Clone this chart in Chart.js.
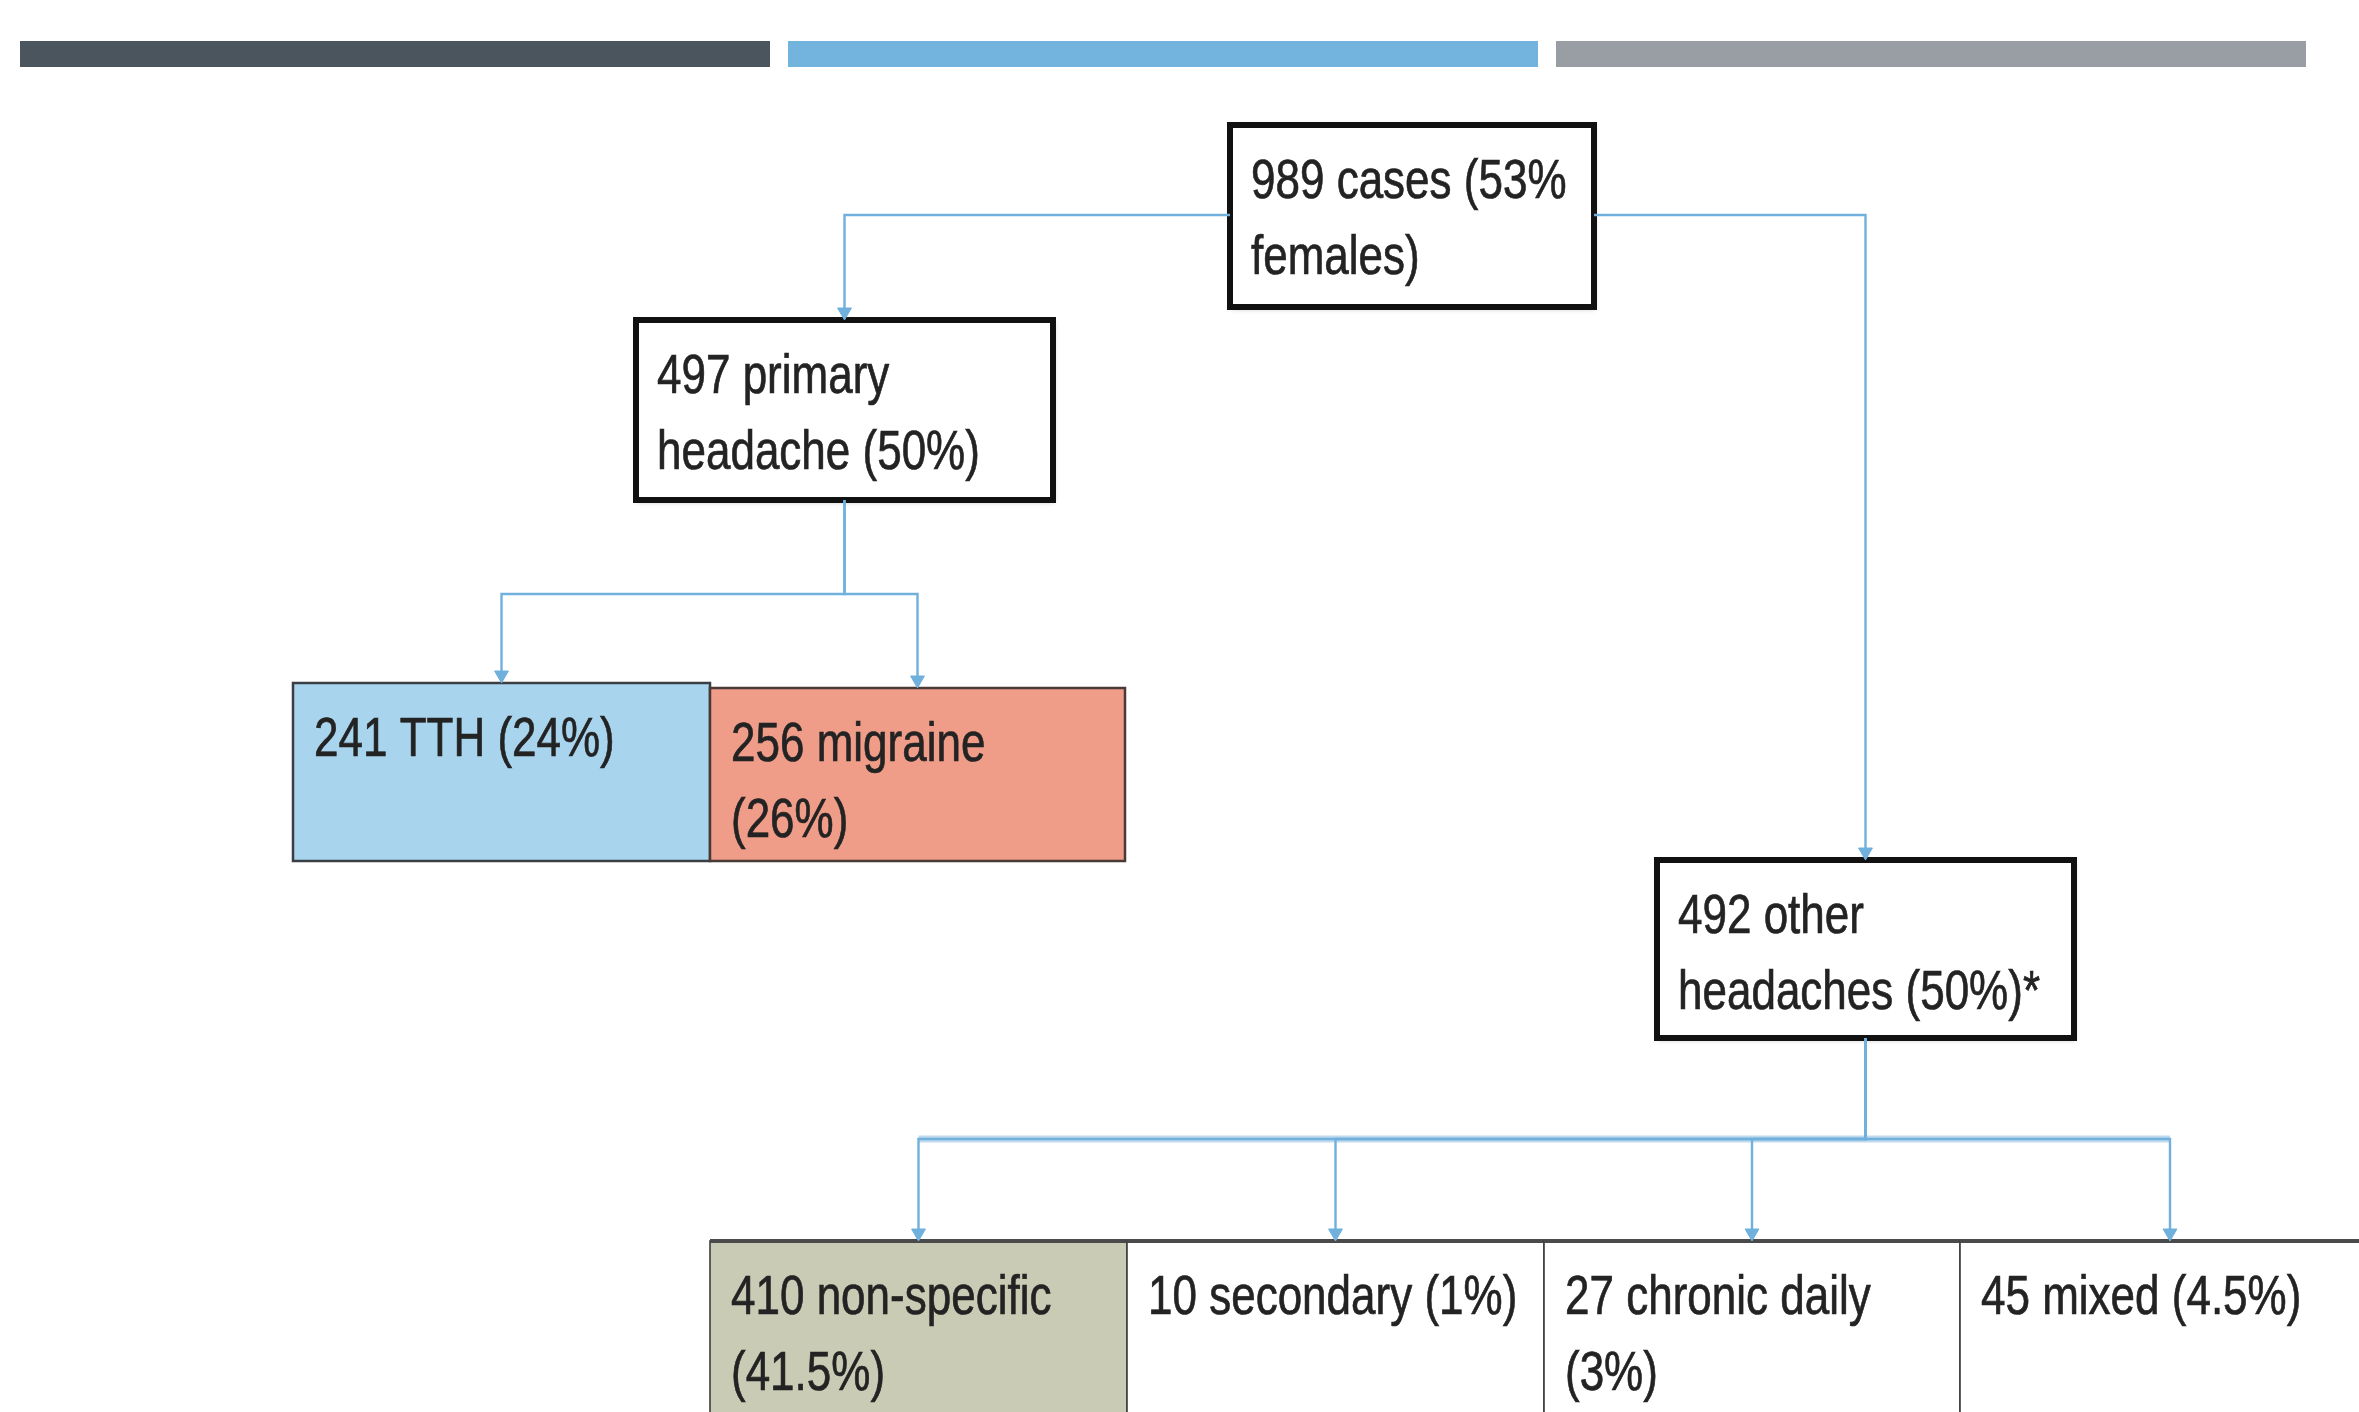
<!DOCTYPE html>
<html>
<head>
<meta charset="utf-8">
<script src="https://cdn.jsdelivr.net/npm/chart.js@4/dist/chart.umd.min.js"></script>
<style>
  html, body { margin: 0; padding: 0; background: #ffffff; overflow: hidden; }
  #wrap { width: 2359px; height: 1412px; position: relative; }
</style>
</head>
<body>
<div id="wrap"><canvas id="flow" width="2359" height="1412"></canvas></div>
<script>
// Classification of headache cases
const counts  = [989, 497, 241, 256, 492, 410, 10, 27, 45];
const names   = ['cases', 'primary', 'TTH', 'migraine', 'other', 'non-specific', 'secondary', 'chronic daily', 'mixed'];
const suffix  = ['', 'headache', '', '', 'headaches', '', '', '', ''];
const shares  = ['53% females', '50%', '24%', '26%', '50%', '41.5%', '1%', '3%', '4.5%'];
const notes   = ['', '', '', '', '*', '', '', '', ''];
const parents = [-1, 0, 1, 1, 0, 4, 4, 4, 4];

// ---- layout (scale units = canvas pixels, y grows downwards) ----
const W = 2359, H = 1412;
const FONT = '"Liberation Sans", Arial, sans-serif';
const FONT_SIZE = 55;
const NARROW = 0.8;       // horizontal condensing of the label face
const LINE_GAP = 76;
const FIRST_LINE = 58;
const TEXT_INSET = 21;

const styles = {
  frame: { fill: '#ffffff', stroke: '#111111', width: 6, shadow: true },
  tth:   { fill: '#a9d4ee', stroke: '#3b3f44', width: 2.5 },
  mig:   { fill: '#ef9c88', stroke: '#4a3a36', width: 2.5 },
  grey:  { fill: '#c9cbb4', stroke: '#3d3d3d', width: 1.6, top: 4 },
  row:   { fill: '#ffffff', stroke: '#3d3d3d', width: 1.6, top: 4 }
};

// box geometry and the number of words that go on the first text line
const boxes = [
  { x0: 1230, x1: 1594, y0: 125,  y1: 307,  style: 'frame', firstWords: 3 },
  { x0: 636,  x1: 1053, y0: 320,  y1: 500,  style: 'frame', firstWords: 2 },
  { x0: 293,  x1: 710,  y0: 683,  y1: 861,  style: 'tth',   firstWords: 0 },
  { x0: 710,  x1: 1125, y0: 688,  y1: 861,  style: 'mig',   firstWords: 2 },
  { x0: 1657, x1: 2074, y0: 860,  y1: 1038, style: 'frame', firstWords: 2 },
  { x0: 710,  x1: 1127, y0: 1241, y1: 1480, style: 'grey',  firstWords: 2 },
  { x0: 1127, x1: 1544, y0: 1241, y1: 1480, style: 'row',   firstWords: 0 },
  { x0: 1544, x1: 1960, y0: 1241, y1: 1480, style: 'row',   firstWords: 3 },
  { x0: 1960, x1: 2380, y0: 1241, y1: 1480, style: 'row',   firstWords: 0 }
];

// how each parent hands off to its children
const routing = {
  0: { mode: 'side', y: 215 },
  1: { mode: 'bottom', busY: 594, busWidth: 0 },
  4: { mode: 'bottom', busY: 1139, busWidth: 7 }
};

const headerBars = [
  { x0: 20,   x1: 770,  color: '#4b555d' },
  { x0: 788,  x1: 1538, color: '#73b4de' },
  { x0: 1556, x1: 2306, color: '#999ea5' }
];
const HEADER_Y0 = 41, HEADER_Y1 = 67;

const LINK_COLOR = '#6fb0dd';
const ARROW_R = 8;

// ---- build connector datasets from the tree ----
const cx = b => (b.x0 + b.x1) / 2;
const datasets = [];
const busDrawn = {};
parents.forEach((p, i) => {
  if (p < 0) return;
  const pb = boxes[p], cb = boxes[i], r = routing[p];
  const ccx = cx(cb);
  let pts;
  if (r.mode === 'side') {
    const sx = ccx < cx(pb) ? pb.x0 : pb.x1;
    pts = [{ x: sx, y: r.y }, { x: ccx, y: r.y }, { x: ccx, y: cb.y0 - ARROW_R }];
  } else {
    pts = [{ x: cx(pb), y: pb.y1 }, { x: cx(pb), y: r.busY }, { x: ccx, y: r.busY }, { x: ccx, y: cb.y0 - ARROW_R }];
    if (r.busWidth && !busDrawn[p]) {
      busDrawn[p] = true;
      const kids = parents.map((q, k) => q === p ? cx(boxes[k]) : null).filter(v => v !== null);
      datasets.push({
        type: 'scatter', showLine: true, pointRadius: 0,
        borderColor: 'rgba(176,208,232,0.8)', borderWidth: r.busWidth,
        data: [{ x: Math.min(...kids), y: r.busY }, { x: Math.max(...kids), y: r.busY }],
        order: 3
      });
    }
  }
  datasets.push({
    type: 'scatter', showLine: true, pointRadius: 0,
    borderColor: LINK_COLOR, borderWidth: 2.4,
    data: pts, order: 2
  });
  datasets.push({
    type: 'scatter', showLine: false,
    pointStyle: 'triangle', rotation: 180, pointRadius: ARROW_R,
    backgroundColor: LINK_COLOR, borderColor: LINK_COLOR, borderWidth: 1,
    data: [{ x: ccx, y: cb.y0 - ARROW_R }], order: 1
  });
});

function nodeLines(i) {
  const parts = [String(counts[i]), names[i]];
  if (suffix[i]) parts.push(suffix[i]);
  const words = (parts.join(' ') + ' (' + shares[i] + ')' + notes[i]).split(' ');
  const n = boxes[i].firstWords;
  if (!n || n >= words.length) return [words.join(' ')];
  return [words.slice(0, n).join(' '), words.slice(n).join(' ')];
}

// boxes, header bars and labels, placed through the chart scales
const flowPlugin = {
  id: 'flowBoxes',
  beforeDatasetsDraw(chart) {
    const { ctx, scales: { x, y } } = chart;
    ctx.save();
    headerBars.forEach(b => {
      const X0 = x.getPixelForValue(b.x0), X1 = x.getPixelForValue(b.x1);
      const Y0 = y.getPixelForValue(HEADER_Y0), Y1 = y.getPixelForValue(HEADER_Y1);
      ctx.fillStyle = b.color;
      ctx.fillRect(X0, Y0, X1 - X0, Y1 - Y0);
    });
    boxes.forEach((b, i) => {
      const s = styles[b.style];
      const X0 = x.getPixelForValue(b.x0), X1 = x.getPixelForValue(b.x1);
      const Y0 = y.getPixelForValue(b.y0), Y1 = y.getPixelForValue(b.y1);
      ctx.save();
      if (s.shadow) {
        ctx.shadowColor = 'rgba(0,0,0,0.25)';
        ctx.shadowBlur = 5;
        ctx.shadowOffsetX = 1;
        ctx.shadowOffsetY = 2;
      }
      ctx.fillStyle = s.fill;
      ctx.fillRect(X0, Y0, X1 - X0, Y1 - Y0);
      ctx.restore();
      ctx.strokeStyle = s.stroke;
      ctx.lineWidth = s.width;
      ctx.strokeRect(X0, Y0, X1 - X0, Y1 - Y0);
      if (s.top) {
        ctx.fillStyle = '#4a4a4a';
        ctx.fillRect(X0, Y0 - s.top / 2, X1 - X0, s.top);
      }
      ctx.fillStyle = '#232323';
      ctx.strokeStyle = '#232323';
      ctx.lineWidth = 0.7;
      ctx.font = FONT_SIZE + 'px ' + FONT;
      ctx.textBaseline = 'middle';
      ctx.textAlign = 'left';
      nodeLines(i).forEach((t, k) => {
        ctx.save();
        ctx.translate(X0 + TEXT_INSET, Y0 + FIRST_LINE + k * LINE_GAP);
        ctx.scale(NARROW, 1);
        ctx.fillText(t, 0, 0);
        ctx.strokeText(t, 0, 0);
        ctx.restore();
      });
    });
    ctx.restore();
  }
};

new Chart(document.getElementById('flow'), {
  type: 'scatter',
  data: { datasets },
  options: {
    responsive: false,
    animation: false,
    devicePixelRatio: 1,
    layout: { padding: 0, autoPadding: false },
    plugins: { legend: { display: false }, tooltip: { enabled: false } },
    scales: {
      x: { type: 'linear', min: 0, max: W, display: false },
      y: { type: 'linear', min: 0, max: H, reverse: true, display: false }
    }
  },
  plugins: [flowPlugin]
});
</script>
</body>
</html>
